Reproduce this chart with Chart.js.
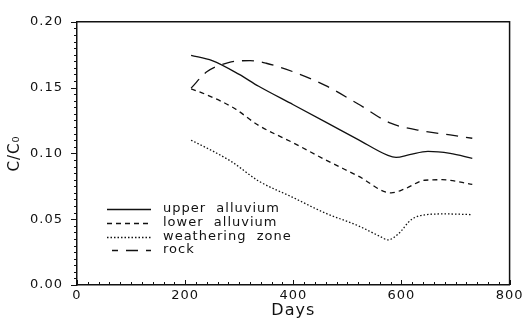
<!DOCTYPE html>
<html>
<head>
<meta charset="utf-8">
<script src="https://cdn.jsdelivr.net/npm/chart.js@4/dist/chart.umd.min.js"></script>
<style>
html,body{margin:0;padding:0;background:#fff;}
#wrap{width:525px;height:321px;position:relative;}
</style>
</head>
<body>
<div id="wrap"><canvas id="c" width="525" height="321"></canvas></div>
<script>
// ---- data ----
const seriesLabels = ['upper alluvium', 'lower alluvium', 'weathering zone', 'rock'];

const upperDays   = [211, 250, 300, 336, 400, 460, 520, 575, 590, 615, 649, 690, 731];
const upperValues = [0.1745, 0.1705, 0.1600, 0.1510, 0.1370, 0.1238, 0.1105, 0.0985, 0.0970, 0.0990, 0.1015, 0.1000, 0.0963];

const lowerDays   = [211, 240, 290, 335, 400, 460, 520, 581, 606, 643, 675, 731];
const lowerValues = [0.1490, 0.1445, 0.1345, 0.1215, 0.1080, 0.0950, 0.0828, 0.0700, 0.0730, 0.0796, 0.0800, 0.0765];

const weatherDays   = [211, 250, 287, 336, 397, 459, 520, 560, 575, 594, 618, 643, 680, 731];
const weatherValues = [0.1100, 0.1020, 0.0934, 0.0790, 0.0670, 0.0547, 0.0450, 0.0370, 0.0343, 0.0387, 0.0496, 0.0533, 0.0540, 0.0535];

const rockDays   = [211, 240, 280, 320, 350, 400, 460, 520, 580, 640, 690, 731];
const rockValues = [0.1496, 0.1620, 0.1690, 0.1705, 0.1685, 0.1620, 0.1515, 0.1375, 0.1230, 0.1170, 0.1140, 0.1115];

const xTickLabels = [0, 200, 400, 600, 800];
const yTickLabels = [0.00, 0.05, 0.10, 0.15, 0.20];

function pts(xs, ys){ return xs.map((x,i)=>({x:x, y:ys[i]})); }

const INK = '#111';
const FONT = 'DejaVu Sans';

const dashes = [[], [5,4], [1.5,2], [12,8]];

const datasets = [
  pts(upperDays, upperValues),
  pts(lowerDays, lowerValues),
  pts(weatherDays, weatherValues),
  pts(rockDays, rockValues)
].map((d,i)=>({
  label: seriesLabels[i],
  data: d,
  borderColor: INK,
  borderWidth: 1.3,
  borderDash: dashes[i],
  pointRadius: 0,
  fill: false,
  cubicInterpolationMode: 'monotone'
}));

const spacingPlugin = {
  id: 'spacing',
  beforeDraw(chart){ chart.ctx.letterSpacing = '1px'; }
};

const framePlugin = {
  id: 'frame',
  afterDraw(chart){
    const {ctx, chartArea:a, scales} = chart;
    const xs = scales.x, ys = scales.y;
    ctx.save();
    ctx.strokeStyle = INK;
    ctx.lineWidth = 1.5;
    ctx.beginPath();
    ctx.moveTo(a.left, a.top); ctx.lineTo(a.right, a.top);
    ctx.lineTo(a.right, a.bottom);
    ctx.stroke();
    // ticks
    ctx.lineWidth = 1;
    ctx.beginPath();
    for (let v = 0; v <= 800; v += 20) {
      const px = Math.round(xs.getPixelForValue(v)) + 0.5;
      const len = (v % 200 === 0) ? 5 : 3;
      ctx.moveTo(px, a.bottom); ctx.lineTo(px, a.bottom - len);
    }
    for (let k = 0; k <= 40; k++) {
      const v = k * 0.005;
      const py = Math.round(ys.getPixelForValue(v)) + 0.5;
      const len = (k % 10 === 0) ? 6 : 3;
      ctx.moveTo(a.left, py); ctx.lineTo(a.left - len, py);
    }
    ctx.stroke();
    // legend inside the plot
    const lx0 = 107, lx1 = 151, tx = 163;
    const rowY = [209, 223, 237, 250];
    ctx.font = '13px "' + FONT + '"';
    ctx.letterSpacing = '1px';
    ctx.fillStyle = INK;
    ctx.textBaseline = 'middle';
    ctx.textAlign = 'left';
    chart.data.datasets.forEach((ds, i) => {
      const y = rowY[i] + 0.5;
      ctx.lineWidth = 1.3;
      ctx.setLineDash(ds.borderDash || []);
      ctx.lineDashOffset = (i === 3) ? 6 : 0;
      ctx.beginPath();
      ctx.moveTo(i === 3 ? 112 : lx0, y); ctx.lineTo(lx1, y);
      ctx.stroke();
      ctx.setLineDash([]);
      ctx.fillText(ds.label.replace(' ', '  '), tx, rowY[i]);
    });
    ctx.restore();
  }
};

new Chart(document.getElementById('c'), {
  type: 'line',
  data: { datasets },
  plugins: [spacingPlugin, framePlugin],
  options: {
    responsive: false,
    animation: false,
    layout: { padding: { top: 11, right: 13, left: 0, bottom: 0 } },
    plugins: { legend: { display: false }, tooltip: { enabled: false } },
    scales: {
      x: {
        type: 'linear',
        min: 0, max: 800,
        afterFit(s){ s.height = 36; },
        afterBuildTicks(s){ s.ticks = xTickLabels.map(v=>({value:v})); },
        grid: { display: false, drawTicks: false },
        border: { display: true, color: INK, width: 1.5 },
        ticks: { color: INK, font: { family: FONT, size: 13 }, padding: 3, maxRotation: 0, autoSkip: false,
                 callback: v => String(v) },
        title: { display: true, text: 'Days', color: INK, font: { family: FONT, size: 16 }, padding: { top: 0, bottom: 1 } }
      },
      y: {
        type: 'linear',
        min: 0, max: 0.2,
        afterFit(s){ s.width = 77; },
        afterBuildTicks(s){ s.ticks = yTickLabels.map(v=>({value:v})); },
        grid: { display: false, drawTicks: false },
        border: { display: true, color: INK, width: 1.5 },
        ticks: { color: INK, font: { family: FONT, size: 13 }, padding: 14, autoSkip: false,
                 callback: v => Number(v).toFixed(2) },
        title: { display: true, text: 'C/C₀', color: INK, font: { family: FONT, size: 15 }, padding: { top: 6, bottom: 0 } }
      }
    }
  }
});
</script>
</body>
</html>
